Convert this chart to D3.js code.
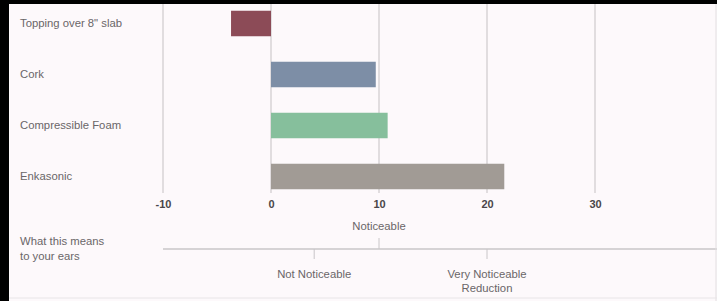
<!DOCTYPE html>
<html>
<head>
<meta charset="utf-8">
<script src="https://cdn.jsdelivr.net/npm/d3@7"></script>
<style>
  html, body { margin: 0; padding: 0; background: #fff; }
  svg { display: block; }
  text { font-family: "Liberation Sans", Arial, sans-serif; }
</style>
</head>
<body>
<div id="root"></div>
<script>
// sound reduction improvement, per underlay product
const categories = ['Topping over 8" slab', 'Cork', 'Compressible Foam', 'Enkasonic'];
const values = [-3.7, 9.7, 10.8, 21.6];
const colors = ['#8c4b57', '#7d8ea6', '#86bf9c', '#a19b95'];

const xTicks = [-10, 0, 10, 20, 30];

// what the numbers mean to a listener
const meaningAbove = [{ v: 10, label: ['Noticeable'] }];
const meaningBelow = [
  { v: 4, label: ['Not Noticeable'] },
  { v: 20, label: ['Very Noticeable', 'Reduction'] },
];

const W = 717, H = 301;

const svg = d3.select('#root').append('svg')
  .attr('width', W)
  .attr('height', H);

svg.append('rect')
  .attr('width', W).attr('height', H)
  .attr('fill', '#fdf9fb');

const x = d3.scaleLinear().domain([-10, 30]).range([163, 595]);
const y = d3.scaleBand().domain(categories).range([-2, 202]).paddingInner(0.5).paddingOuter(0.25);

// grid
svg.append('g')
  .selectAll('line')
  .data(xTicks)
  .join('line')
  .attr('x1', d => x(d)).attr('x2', d => x(d))
  .attr('y1', 4).attr('y2', 193)
  .attr('stroke', '#cfcacd')
  .attr('stroke-width', 1.2);

// bars
svg.append('g')
  .selectAll('rect')
  .data(values)
  .join('rect')
  .attr('x', d => x(Math.min(0, d)))
  .attr('width', d => Math.abs(x(d) - x(0)))
  .attr('y', (d, i) => y(categories[i]))
  .attr('height', y.bandwidth())
  .attr('fill', (d, i) => colors[i]);

// category labels
svg.append('g')
  .selectAll('text')
  .data(categories)
  .join('text')
  .attr('x', 20)
  .attr('y', d => y(d) + y.bandwidth() / 2)
  .attr('dy', '0.35em')
  .attr('font-size', 11.3)
  .attr('fill', '#6a6668')
  .text(d => d);

// numeric axis
const xAxis = svg.append('g')
  .attr('transform', 'translate(0,197)')
  .call(d3.axisBottom(x).tickValues(xTicks).tickFormat(d => String(d)).tickSize(0).tickPadding(3));
xAxis.select('.domain').remove();
xAxis.selectAll('text')
  .attr('font-size', 11)
  .attr('font-weight', 'bold')
  .attr('fill', '#4a4648')
  .style('font-family', '"Liberation Sans", Arial, sans-serif');

// "what this means" scale
const yLine = 249;
svg.append('line')
  .attr('x1', x(-10)).attr('x2', W)
  .attr('y1', yLine).attr('y2', yLine)
  .attr('stroke', '#c9c6c8')
  .attr('stroke-width', 1.5);

svg.append('g')
  .selectAll('line')
  .data(meaningAbove)
  .join('line')
  .attr('x1', d => x(d.v)).attr('x2', d => x(d.v))
  .attr('y1', yLine - 11).attr('y2', yLine)
  .attr('stroke', '#c9c6c8');

svg.append('g')
  .selectAll('line')
  .data(meaningBelow)
  .join('line')
  .attr('x1', d => x(d.v)).attr('x2', d => x(d.v))
  .attr('y1', yLine).attr('y2', yLine + 10)
  .attr('stroke', '#c9c6c8');

svg.append('g')
  .selectAll('text')
  .data(meaningAbove)
  .join('text')
  .attr('x', d => x(d.v))
  .attr('y', 230)
  .attr('text-anchor', 'middle')
  .attr('font-size', 11.3)
  .attr('fill', '#6a6668')
  .text(d => d.label[0]);

svg.append('g')
  .selectAll('text')
  .data(meaningBelow)
  .join('text')
  .attr('x', d => x(d.v))
  .attr('y', 278)
  .attr('text-anchor', 'middle')
  .attr('font-size', 11.3)
  .attr('fill', '#6a6668')
  .selectAll('tspan')
  .data(d => d.label.map(l => ({ l, x: x(d.v) })))
  .join('tspan')
  .attr('x', d => d.x)
  .attr('dy', (d, i) => i ? 14 : 0)
  .text(d => d.l);

svg.append('text')
  .attr('x', 20).attr('y', 245)
  .attr('font-size', 11.3)
  .attr('fill', '#6a6668')
  .selectAll('tspan')
  .data(['What this means', 'to your ears'])
  .join('tspan')
  .attr('x', 20)
  .attr('dy', (d, i) => i ? 15 : 0)
  .text(d => d);

// frame
svg.append('rect').attr('x', 0).attr('y', 0).attr('width', 9).attr('height', H).attr('fill', '#000');
svg.append('rect').attr('x', 0).attr('y', 0).attr('width', W).attr('height', 4).attr('fill', '#000');
svg.append('line')
  .attr('x1', W - 1).attr('x2', W - 1).attr('y1', 4).attr('y2', H)
  .attr('stroke', '#e2dfe1');
svg.append('line')
  .attr('x1', 9).attr('x2', W).attr('y1', H - 3).attr('y2', H - 3)
  .attr('stroke', '#e8e5e7');
</script>
</body>
</html>
